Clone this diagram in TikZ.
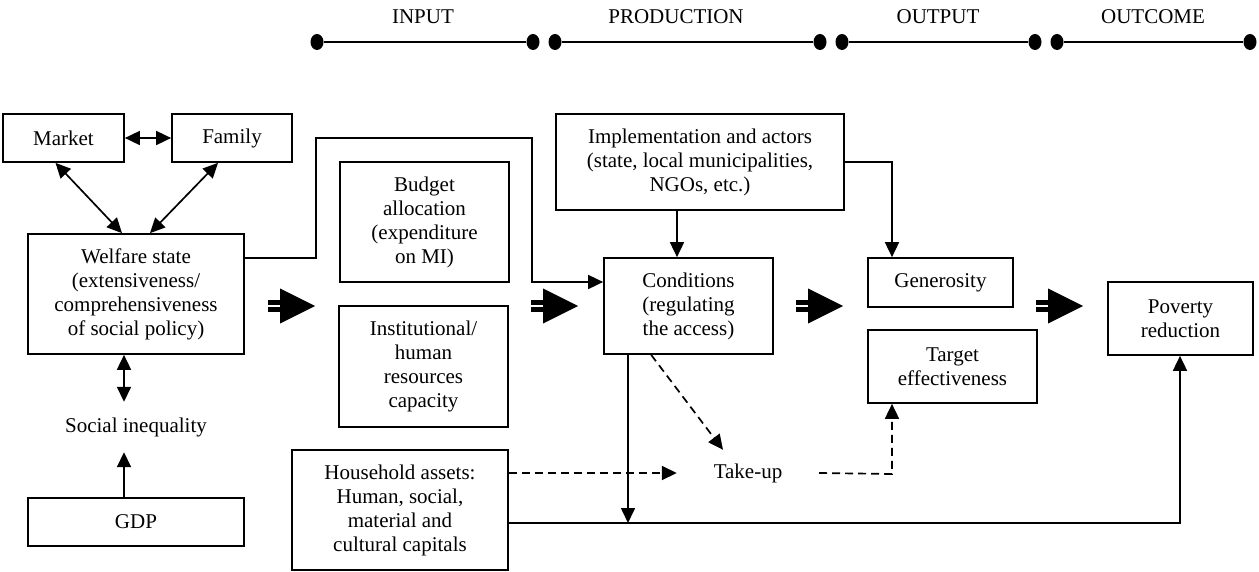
\documentclass[tikz,border=0pt]{standalone}
\usepackage{fontspec}
\setmainfont{Liberation Serif}
\usetikzlibrary{arrows.meta,calc,shapes.geometric}
\tikzset{
  txt/.style={font=\fontsize{21pt}{24pt}\selectfont, align=center, inner sep=0pt},
  box/.style={txt, draw, line width=1.7pt},
  con/.style={line width=1.7pt, -{Triangle[length=15pt,width=14pt]}},
  bicon/.style={line width=1.7pt, {Triangle[length=15pt,width=14pt]}-{Triangle[length=15pt,width=14pt]}},
  dcon/.style={con, dash pattern=on 8pt off 5pt},
  tline/.style={line width=2.2pt},
  tdot/.style={ellipse, fill=black, inner sep=0pt, minimum width=13pt, minimum height=16pt}
}
\newcommand\fatarr[1]{%
  \fill (#1) ++(0,-17.5) -- ++(35,17.5) -- ++(-35,17.5) -- cycle;
  \fill ($(#1)+(-12,-6)$) rectangle ++(12,5);
  \fill ($(#1)+(-12,1)$) rectangle ++(12,5);
}
\begin{document}
\begin{tikzpicture}[x=1pt, y=-1pt]
\useasboundingbox (0,0) rectangle (1259,572);

% timeline
\foreach \n/\x in {d1/317,d2/533,d3/555,d4/820,d5/842,d6/1035,d7/1057,d8/1250}
  \node[tdot] (\n) at (\x,42) {};
\draw[tline] (d1) -- (d2);
\draw[tline] (d3) -- (d4);
\draw[tline] (d5) -- (d6);
\draw[tline] (d7) -- (d8);
\node[txt] (lin) at (423,17) {INPUT};
\node[txt] (lprod) at (676,17) {PRODUCTION};
\node[txt] (lout) at (938,17) {OUTPUT};
\node[txt] (loc) at (1153,17) {OUTCOME};

% boxes
\node[box, minimum width=121pt, minimum height=48pt] (market) at (63.5,138) {Market};
\node[box, minimum width=120pt, minimum height=48pt] (family) at (232,138) {Family};
\node[box, minimum width=216pt, minimum height=120pt] (welfare) at (136,294)
  {Welfare state\\(extensiveness/\\comprehensiveness\\of social policy)};
\node[txt, minimum height=50pt] (socineq) at (136,427) {Social inequality};
\node[box, minimum width=216pt, minimum height=48pt] (gdp) at (136,522) {GDP};
\node[box, minimum width=169pt, minimum height=120pt] (budget) at (424.5,222)
  {Budget\\allocation\\(expenditure\\on MI)};
\node[box, minimum width=169pt, minimum height=121pt] (inst) at (423.5,366.5)
  {Institutional/\\human\\resources\\capacity};
\node[box, minimum width=216pt, minimum height=120pt] (household) at (400,510)
  {Household assets:\\Human, social,\\material and\\cultural capitals};
\node[box, minimum width=288pt, minimum height=96pt] (impl) at (700,162)
  {Implementation and actors\\(state, local municipalities,\\NGOs, etc.)};
\node[box, minimum width=169pt, minimum height=96pt] (cond) at (688.5,306)
  {Conditions\\(regulating\\the access)};
\node[txt, minimum width=142pt, minimum height=46pt] (takeup) at (748,473) {Take-up};
\node[box, minimum width=145pt, minimum height=49pt] (gen) at (940.5,282.5) {Generosity};
\node[box, minimum width=169pt, minimum height=73pt] (target) at (952.5,366.5)
  {Target\\effectiveness};
\node[box, minimum width=145pt, minimum height=73pt] (poverty) at (1180.5,318.5)
  {Poverty\\reduction};

% helper coordinates
\coordinate (w1) at (316,258);
\coordinate (w2) at (316,138);
\coordinate (w3) at (532,138);
\coordinate (w4) at (532,282);
\coordinate (cx) at (677,0);
\coordinate (g1) at (892,162);
\coordinate (bl) at (628,523);
\coordinate (br) at (1180,523);
\coordinate (tk) at (892,474);

% connectors
\draw[bicon] (market.east) -- (family.west);
\draw[bicon] ($(market.south)+(-8,0)$) -- ($(welfare.north)+(-14,0)$);
\draw[bicon] ($(family.south)+(-14,0)$) -- ($(welfare.north)+(14,0)$);
\draw[bicon] ($(welfare.south)+(-12,0)$) -- ($(socineq.north)+(-12,0)$);
\draw[con] ($(gdp.north)+(-12,0)$) -- ($(socineq.south)+(-12,0)$);
\draw[con] (w1 -| welfare.east) -- (w1) -- (w2) -- (w3) -- (w4) -- (w4 -| cond.west);
\draw[con] (impl.south -| cx) -- (cond.north -| cx);
\draw[con] (impl.east |- g1) -- (g1) -- (g1 |- gen.north);
\draw[con] (cond.south -| bl) -- (bl);
\draw[con] (household.east |- bl) -- (br) -- (br |- poverty.south);
\draw[dcon] ($(cond.south west)+(48,0)$) -- ($(takeup.north)+(-25,0)$);
\draw[dcon] (takeup.west -| household.east) -- (takeup.west);
\draw[dcon] (takeup.east) -- (tk) -- (tk |- target.south);

% big arrows
\coordinate (fa1) at (280,306);
\coordinate (fa2) at (543,306);
\coordinate (fa3) at (808,306);
\coordinate (fa4) at (1048,306);
\fatarr{fa1}
\fatarr{fa2}
\fatarr{fa3}
\fatarr{fa4}
\end{tikzpicture}
\end{document}
